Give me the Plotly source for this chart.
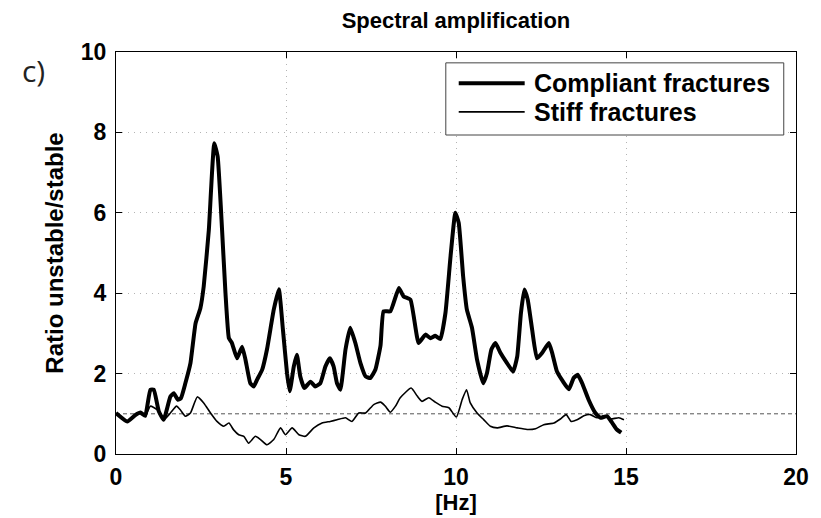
import plotly.graph_objects as go

# Frequency axis [Hz] and amplification ratios for both fracture models
compliant_hz = [0, 0.33, 0.57, 0.72, 0.86, 1.01, 1.11, 1.26, 1.4, 1.6, 1.7, 1.82, 1.91, 2.04,
                2.19, 2.34, 2.48, 2.58, 2.73, 2.89, 2.99, 3.12, 3.22, 3.32, 3.41, 3.56, 3.71,
                3.81, 3.95, 4.05, 4.15, 4.3, 4.44, 4.64, 4.79, 4.91, 5.03, 5.11, 5.23, 5.32,
                5.42, 5.54, 5.72, 5.86, 6.01, 6.16, 6.29, 6.4, 6.5, 6.6, 6.75, 6.89, 7.04,
                7.19, 7.34, 7.48, 7.63, 7.78, 7.87, 8.07, 8.32, 8.46, 8.66, 8.9, 9.1, 9.25,
                9.39, 9.54, 9.69, 9.84, 9.98, 10.08, 10.21, 10.32, 10.47, 10.62, 10.8, 10.91,
                11.04, 11.16, 11.31, 11.5, 11.68, 11.8, 11.91, 12.01, 12.11, 12.24, 12.38,
                12.53, 12.73, 12.83, 12.97, 13.15, 13.32, 13.46, 13.58, 13.71, 13.9, 14.1,
                14.25, 14.44, 14.59, 14.73, 14.86]
compliant_ratio = [1.02, 0.81, 0.97, 1.03, 0.95, 1.6, 1.6, 1.06, 0.85, 1.43, 1.51, 1.35, 1.39,
                   1.76, 2.26, 3.25, 3.62, 4.17, 5.57, 7.73, 7.4, 5.57, 4.0, 2.88, 2.76, 2.38,
                   2.67, 2.34, 1.76, 1.68, 1.85, 2.1, 2.6, 3.59, 4.1, 3.09, 2.01, 1.56, 2.18,
                   2.47, 1.93, 1.64, 1.8, 1.68, 1.76, 2.18, 2.38, 2.18, 1.76, 1.6, 2.6, 3.14,
                   2.76, 2.26, 1.93, 1.89, 2.1, 2.7, 3.55, 3.55, 4.13, 3.92, 3.84, 2.76, 2.97,
                   2.88, 2.94, 2.86, 3.51, 4.92, 6.0, 5.75, 4.42, 3.59, 3.14, 2.34, 1.76, 2.01,
                   2.6, 2.76, 2.51, 2.26, 2.05, 2.42, 3.51, 4.09, 3.84, 3.09, 2.38, 2.51, 2.76,
                   2.51, 2.05, 1.8, 1.61, 1.89, 1.97, 1.76, 1.35, 1.02, 0.9, 0.94, 0.78, 0.61,
                   0.53]

stiff_hz = [0, 0.33, 0.52, 0.72, 0.86, 1.01, 1.21, 1.4, 1.6, 1.78, 1.89, 2.04, 2.19, 2.39,
            2.58, 2.78, 2.97, 3.17, 3.32, 3.46, 3.61, 3.76, 3.9, 4.1, 4.25, 4.44, 4.64, 4.84,
            4.98, 5.18, 5.38, 5.57, 5.82, 6.06, 6.3, 6.5, 6.75, 6.94, 7.14, 7.34, 7.58, 7.78,
            7.92, 8.07, 8.22, 8.36, 8.68, 8.86, 9.0, 9.2, 9.39, 9.59, 9.79, 10.01, 10.18,
            10.31, 10.42, 10.62, 10.82, 11.01, 11.21, 11.5, 11.8, 12.09, 12.34, 12.58, 12.88,
            13.07, 13.24, 13.39, 13.56, 13.76, 13.95, 14.15, 14.35, 14.54, 14.79, 14.94]
stiff_ratio = [1.02, 0.79, 0.94, 1.02, 0.94, 1.19, 1.1, 0.85, 1.02, 1.19, 1.1, 0.94, 1.02,
               1.42, 1.27, 1.02, 0.81, 0.69, 0.77, 0.6, 0.48, 0.44, 0.27, 0.44, 0.36, 0.23,
               0.36, 0.65, 0.48, 0.65, 0.48, 0.44, 0.65, 0.77, 0.81, 0.85, 0.9, 0.81, 1.02,
               1.02, 1.23, 1.29, 1.19, 1.04, 1.19, 1.4, 1.64, 1.44, 1.31, 1.4, 1.29, 1.19,
               1.15, 0.92, 1.35, 1.6, 1.27, 1.02, 0.85, 0.69, 0.65, 0.7, 0.65, 0.61, 0.63,
               0.73, 0.77, 0.87, 0.98, 0.81, 0.85, 0.95, 0.98, 0.9, 0.94, 0.87, 0.9, 0.85]

# Unit-ratio reference level
reference_hz = [0, 20]
reference_ratio = [1, 1]

x_ticks = [0, 5, 10, 15, 20]
y_ticks = [0, 2, 4, 6, 8, 10]
series_names = ["Compliant fractures", "Stiff fractures"]

FONT = "Liberation Sans, Arial, sans-serif"

fig = go.Figure()
fig.add_trace(go.Scatter(x=reference_hz, y=reference_ratio, mode="lines",
                         line=dict(color="#555555", width=1, dash="4px,3px"),
                         showlegend=False, hoverinfo="skip"))
fig.add_trace(go.Scatter(x=stiff_hz, y=stiff_ratio, mode="lines", name=series_names[1],
                         line=dict(color="black", width=1.6, shape="spline", smoothing=0.5),
                         showlegend=False))
fig.add_trace(go.Scatter(x=compliant_hz, y=compliant_ratio, mode="lines", name=series_names[0],
                         line=dict(color="black", width=4, shape="spline", smoothing=0.4),
                         showlegend=False))

axis_common = dict(
    showline=True, linecolor="black", linewidth=1, mirror="allticks",
    ticks="inside", ticklen=6, tickcolor="black", tickwidth=1,
    showgrid=True, gridcolor="#b4b4b4", gridwidth=1, griddash="1px,5px",
    zeroline=False,
    tickfont=dict(family=FONT, size=23, color="black", weight="bold"),
)

fig.update_xaxes(range=[0, 20], tickvals=x_ticks, ticklabelstandoff=2,
                 title=dict(text="[Hz]", standoff=0,
                            font=dict(family=FONT, size=22, color="black", weight="bold")),
                 automargin=False, **axis_common)
fig.update_yaxes(range=[0, 10], tickvals=y_ticks, ticklabelstandoff=4,
                 title=dict(text="Ratio unstable/stable", standoff=10,
                            font=dict(family=FONT, size=24, color="black", weight="bold")),
                 automargin=False, **axis_common)

# Legend box drawn in paper space
leg_x0, leg_x1, leg_y0, leg_y1 = 0.485, 0.982, 0.7935, 0.973
fig.add_shape(type="rect", xref="paper", yref="paper", x0=leg_x0, x1=leg_x1, y0=leg_y0, y1=leg_y1,
              line=dict(color="#444444", width=1), fillcolor="white", layer="above")
legend_rows = [(0.922, 4), (0.851, 1.6)]
for name, (row_y, lw) in zip(series_names, legend_rows):
    fig.add_shape(type="line", xref="paper", yref="paper", x0=0.504, x1=0.601, y0=row_y, y1=row_y,
                  line=dict(color="black", width=lw), layer="above")
    fig.add_annotation(xref="paper", yref="paper", x=0.612, y=row_y, text=name,
                       xanchor="left", yanchor="middle", showarrow=False,
                       font=dict(family=FONT, size=25, color="black", weight="bold"))

# Panel label
fig.add_annotation(xref="paper", yref="paper", x=-0.141, y=0.953, text="c)",
                   xanchor="left", yanchor="middle", showarrow=False,
                   font=dict(family="Open Sans, sans-serif", size=30, color="#222222"))

fig.update_layout(
    width=821, height=518,
    margin=dict(l=116, r=25, t=52, b=64),
    paper_bgcolor="white", plot_bgcolor="white",
    title=dict(text="Spectral amplification", x=0.5, xref="paper", xanchor="center",
               y=1 - 20.5 / 518, yref="container", yanchor="middle",
               font=dict(family=FONT, size=22, color="black", weight="bold")),
    showlegend=False,
)

fig.write_html("out.html")
